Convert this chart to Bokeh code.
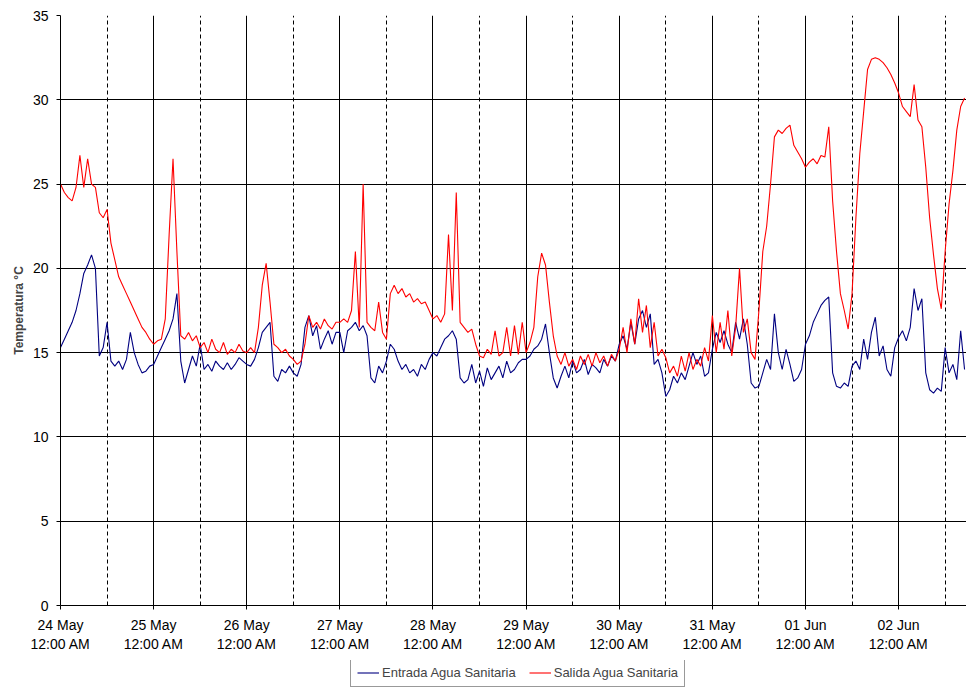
import pandas as pd
from bokeh.plotting import figure
from bokeh.layouts import column
from bokeh.models import Range1d, FixedTicker, DatetimeTickFormatter, Legend, LegendItem
from bokeh.embed import file_html
from bokeh.resources import INLINE

# ---- data (hourly readings, °C) ----
start_date = "2008-05-24 00:00"
day_labels = ["24 May", "25 May", "26 May", "27 May", "28 May", "29 May", "30 May", "31 May", "01 Jun", "02 Jun"]

salida_24may = [25.0, 24.5, 24.2, 24.0, 24.8, 26.7, 24.8, 26.5, 25.0, 24.8, 23.3, 23.0,
                23.5, 21.5, 20.5, 19.5, 19.0, 18.5, 18.0, 17.5, 17.0, 16.5, 16.2, 15.8]
salida_25may = [15.5, 15.7, 15.8, 17.0, 22.0, 26.5, 21.0, 16.0, 15.8, 16.2, 15.7, 16.0,
                15.3, 15.6, 15.0, 15.8, 15.2, 15.0, 15.6, 14.9, 15.2, 15.0, 15.5, 15.1]
salida_26may = [15.0, 15.3, 15.0, 16.5, 19.0, 20.3, 18.0, 15.5, 15.3, 15.0, 15.2, 14.8,
                14.6, 14.3, 14.5, 15.5, 17.2, 16.5, 16.8, 16.4, 17.0, 16.6, 16.4, 16.8]
salida_27may = [16.8, 17.0, 16.8, 17.5, 21.0, 16.5, 25.0, 16.8, 16.5, 16.3, 18.0, 16.2,
                15.8, 18.5, 19.0, 18.5, 18.8, 18.3, 18.5, 18.0, 18.2, 17.9, 18.0, 17.5]
salida_28may = [17.0, 17.2, 16.8, 17.3, 22.0, 17.5, 24.5, 16.8, 16.5, 16.2, 16.4, 15.5,
                14.8, 14.7, 15.2, 14.9, 16.3, 14.8, 15.0, 16.5, 14.8, 16.6, 14.9, 16.8]
salida_29may = [15.0, 15.6, 16.5, 19.5, 20.9, 20.2, 18.0, 16.0, 14.8, 14.3, 15.0, 14.2,
                14.6, 14.0, 14.8, 14.3, 14.9, 14.2, 15.0, 14.4, 14.8, 14.2, 14.9, 14.5]
salida_30may = [15.2, 16.5, 15.0, 17.0, 15.5, 18.2, 16.2, 17.8, 15.3, 16.8, 14.8, 15.2,
                14.7, 13.8, 14.2, 13.6, 14.8, 13.9, 15.0, 14.0, 14.6, 14.2, 15.3, 14.5]
salida_31may = [17.2, 15.0, 16.8, 15.2, 17.5, 14.8, 16.5, 20.0, 16.2, 17.0, 15.0, 14.6,
                17.5, 21.0, 22.5, 25.0, 27.8, 28.2, 28.0, 28.3, 28.5, 27.3, 26.9, 26.5]
salida_01jun = [26.0, 26.3, 26.5, 26.2, 26.7, 26.6, 28.4, 24.0, 21.0, 18.5, 17.5, 16.4,
                18.5, 23.0, 26.8, 29.3, 31.8, 32.4, 32.5, 32.4, 32.2, 31.9, 31.5, 31.0]
salida_02jun = [30.4, 29.6, 29.3, 29.0, 30.9, 28.8, 28.4, 26.0, 23.0, 20.8, 18.8, 17.6,
                21.0, 23.8, 25.8, 28.2, 29.6, 30.1]

entrada_24may = [15.3, 15.8, 16.3, 16.8, 17.5, 18.5, 19.7, 20.2, 20.8, 20.0, 14.8, 15.3,
                 16.8, 14.5, 14.2, 14.5, 14.0, 14.6, 16.2, 15.0, 14.3, 13.8, 13.9, 14.2]
entrada_25may = [14.3, 14.8, 15.3, 15.8, 16.3, 17.0, 18.5, 14.5, 13.2, 14.0, 14.8, 14.2,
                 15.5, 14.0, 14.3, 13.9, 14.5, 14.2, 14.0, 14.4, 14.0, 14.3, 14.7, 14.5]
entrada_26may = [14.3, 14.2, 14.6, 15.3, 16.2, 16.5, 16.8, 13.6, 13.3, 14.0, 13.8, 14.2,
                 13.8, 13.6, 14.3, 16.5, 17.2, 16.0, 16.6, 15.2, 15.8, 16.3, 15.5, 16.2]
entrada_27may = [16.2, 15.0, 16.3, 16.5, 16.8, 16.3, 16.6, 16.0, 13.5, 13.2, 14.2, 13.8,
                 14.5, 15.5, 15.2, 14.5, 14.0, 14.3, 13.8, 14.0, 13.6, 14.3, 14.0, 14.6]
entrada_28may = [15.0, 14.8, 15.3, 15.8, 16.0, 16.3, 15.8, 13.5, 13.2, 13.4, 14.3, 13.2,
                 13.9, 13.0, 14.1, 13.4, 13.8, 14.2, 13.5, 14.5, 13.8, 14.0, 14.4, 14.6]
entrada_29may = [14.6, 14.8, 15.2, 15.4, 15.8, 16.7, 15.0, 13.5, 12.9, 13.6, 14.2, 13.5,
                 14.5, 13.8, 14.0, 14.6, 13.7, 14.3, 14.1, 13.8, 14.6, 14.2, 14.8, 14.5]
entrada_30may = [15.5, 16.0, 15.2, 16.8, 15.5, 17.0, 17.5, 16.5, 17.3, 14.3, 14.6, 13.8,
                 12.4, 12.8, 13.6, 13.2, 13.8, 13.4, 14.2, 15.0, 14.3, 14.8, 13.6, 13.8]
entrada_31may = [15.2, 16.2, 15.6, 16.3, 15.5, 15.0, 16.8, 15.8, 17.0, 15.5, 13.2, 12.9,
                 13.0, 13.8, 14.6, 14.0, 17.3, 15.0, 14.0, 15.2, 14.3, 13.3, 13.5, 14.0]
entrada_01jun = [15.5, 16.0, 16.8, 17.3, 17.8, 18.1, 18.3, 13.8, 13.0, 12.9, 13.2, 13.0,
                 14.2, 14.5, 14.0, 15.8, 14.6, 16.2, 17.1, 14.8, 15.4, 14.0, 13.6, 15.3]
entrada_02jun = [15.9, 16.3, 15.7, 16.5, 18.8, 17.5, 18.2, 13.8, 12.8, 12.6, 12.9, 12.7,
                 15.3, 13.8, 14.3, 13.4, 16.3, 14.0]

y_ticks = [0, 5, 10, 15, 20, 25, 30, 35]
series_names = ["Entrada Agua Sanitaria", "Salida Agua Sanitaria"]
series_colors = ["#000080", "#FF0000"]

salida = (salida_24may + salida_25may + salida_26may + salida_27may + salida_28may +
          salida_29may + salida_30may + salida_31may + salida_01jun + salida_02jun)
entrada = (entrada_24may + entrada_25may + entrada_26may + entrada_27may + entrada_28may +
           entrada_29may + entrada_30may + entrada_31may + entrada_01jun + entrada_02jun)

t0 = pd.Timestamp(start_date)
times = pd.date_range(t0, periods=len(salida), freq="h")
midnights = [(t0 + pd.Timedelta(days=i)) for i in range(len(day_labels))]
noons = [(m + pd.Timedelta(hours=12)) for m in midnights]
to_ms = lambda ts: ts.value / 1e6
mid_ms = [to_ms(m) for m in midnights]
noon_ms = [to_ms(n) for n in noons]

x_end = t0 + pd.Timedelta(hours=len(salida) - 1) + pd.Timedelta(minutes=30)

FONT = "Liberation Sans"

# ---- main chart ----
p = figure(width=966, height=660, x_axis_type="datetime",
           x_range=Range1d(t0, x_end), y_range=Range1d(0, 35),
           output_backend="svg", toolbar_location=None,
           min_border_left=60, min_border_right=0, min_border_top=15, min_border_bottom=55)
p.outline_line_color = None
p.background_fill_color = "white"
p.border_fill_color = "white"

p.line(times, entrada, line_color=series_colors[0], line_width=1.1)
p.line(times, salida, line_color=series_colors[1], line_width=1.1)

xt = FixedTicker(ticks=mid_ms, minor_ticks=noon_ms)
p.xaxis.ticker = xt
fmt = "%d %b\n%I:%M %p"
p.xaxis.formatter = DatetimeTickFormatter(microseconds=fmt, milliseconds=fmt, seconds=fmt,
                                          minsec=fmt, minutes=fmt, hourmin=fmt, hours=fmt,
                                          days=fmt, months=fmt, years=fmt)
p.xgrid.ticker = xt
p.xgrid.grid_line_color = "black"
p.xgrid.grid_line_width = 1
p.xgrid.minor_grid_line_color = "black"
p.xgrid.minor_grid_line_dash = "4 3"
p.xgrid.minor_grid_line_width = 1

p.yaxis.ticker = FixedTicker(ticks=y_ticks)
p.ygrid.ticker = FixedTicker(ticks=y_ticks)
p.ygrid.grid_line_color = "black"
p.ygrid.grid_line_width = 1

for ax in (p.xaxis[0], p.yaxis[0]):
    ax.axis_line_color = "black"
    ax.axis_line_width = 1
    ax.major_tick_line_color = "black"
    ax.major_tick_in = 0
    ax.major_tick_out = 4
    ax.minor_tick_line_color = None
    ax.major_label_text_font = FONT
    ax.major_label_text_font_size = "14px"
    ax.major_label_text_color = "black"

p.xaxis.major_label_standoff = 7
p.yaxis.major_label_standoff = 8
p.yaxis.axis_label = "Temperatura °C"
p.yaxis.axis_label_text_font = FONT
p.yaxis.axis_label_text_font_size = "12px"
p.yaxis.axis_label_text_font_style = "bold"
p.yaxis.axis_label_standoff = 4

# ---- legend strip (series drawn outside its visible y-range; only the legend shows) ----
lg = figure(width=966, height=27, x_axis_type="datetime",
            x_range=Range1d(t0, x_end), y_range=Range1d(-20, -10),
            output_backend="svg", toolbar_location=None,
            x_axis_location=None, y_axis_location=None,
            min_border_left=0, min_border_right=0, min_border_top=0, min_border_bottom=0)
lg.outline_line_color = None
lg.grid.visible = False
lg.border_fill_color = "white"
lg.background_fill_color = "white"
lg_r = [lg.line(times, vals, line_color=c, line_width=1.1)
        for vals, c in zip([entrada, salida], series_colors)]

legend = Legend(items=[LegendItem(label=n, renderers=[r]) for n, r in zip(series_names, lg_r)],
                orientation="horizontal", location=(290, 0))
legend.label_text_font = FONT
legend.label_text_font_size = "13px"
legend.label_standoff = 3
legend.glyph_width = 22
legend.glyph_height = 13
legend.spacing = 13
legend.padding = 6
legend.margin = 0
legend.border_line_color = "#333333"
legend.border_line_width = 1
legend.label_height = 13
legend.background_fill_color = "white"
legend.background_fill_alpha = 1.0
lg.add_layout(legend, "center")

page = column(p, lg, spacing=0)
open("out.html", "w").write(file_html(page, INLINE))
